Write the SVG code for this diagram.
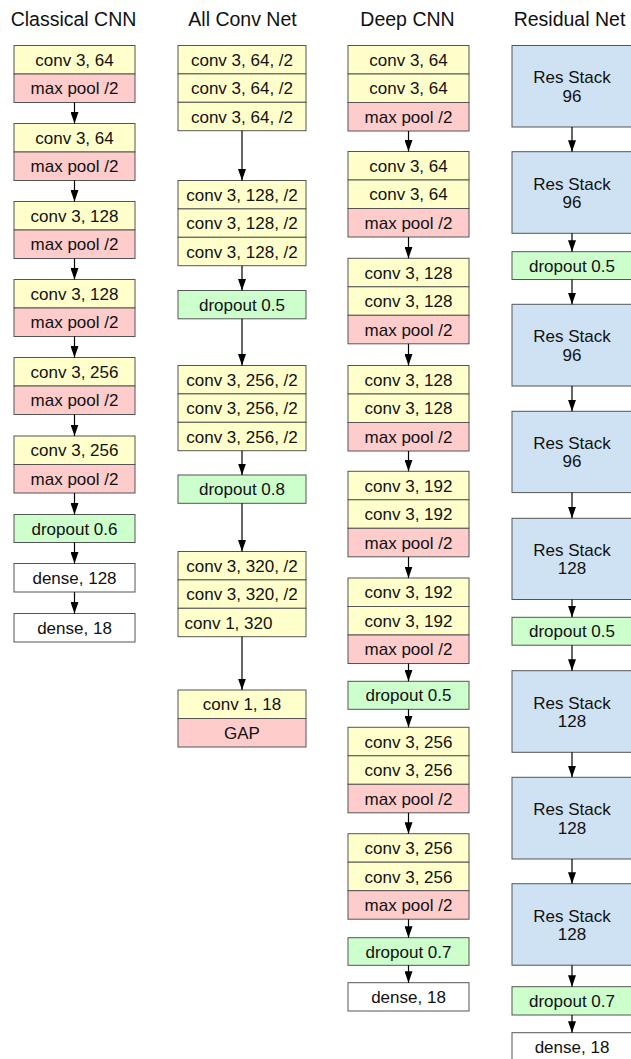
<svg xmlns="http://www.w3.org/2000/svg" width="631" height="1059" viewBox="0 0 631 1059">
<style>
rect{stroke:#555;stroke-width:1}
.y{fill:#ffffcc}.r{fill:#ffcccc}.g{fill:#ccffcc}.b{fill:#cfe2f3}.w{fill:#ffffff}
text{font-family:"Liberation Sans",Arial,Helvetica,sans-serif;fill:#111;text-anchor:middle}
.t{font-size:17px}
.h{font-size:19.5px;fill:#111}
.s{text-anchor:start}
.c line{stroke:#000;stroke-width:1.2;marker-end:url(#ah)}
</style>
<defs>
<marker id="ah" viewBox="0 0 11.5 8" refX="11.5" refY="4" markerWidth="11.5" markerHeight="8" markerUnits="userSpaceOnUse" orient="auto">
<path d="M0,0 L11.5,4 L0,8 z" fill="#000"/>
</marker>
</defs>
<rect x="0" y="0" width="631" height="1059" fill="#fff" style="stroke:none"/>

<g id="titles">
<text class="h" x="73.5" y="25.5">Classical CNN</text>
<text class="h" x="242.5" y="25.5">All Conv Net</text>
<text class="h" x="407.5" y="25.5">Deep CNN</text>
<text class="h" x="569.5" y="25.5">Residual Net</text>
</g>

<!-- Classical CNN -->
<g id="cl1"><rect class="y" x="14" y="45.5" width="121" height="28.5"/><rect class="r" x="14" y="74" width="121" height="28.5"/>
<text class="t" x="74.5" y="65.8">conv 3, 64</text><text class="t" x="74.5" y="94.3">max pool /2</text></g>
<g id="cl2"><rect class="y" x="14" y="123.5" width="121" height="28.5"/><rect class="r" x="14" y="152" width="121" height="28.5"/>
<text class="t" x="74.5" y="143.8">conv 3, 64</text><text class="t" x="74.5" y="172.3">max pool /2</text></g>
<g id="cl3"><rect class="y" x="14" y="201.5" width="121" height="28.5"/><rect class="r" x="14" y="230" width="121" height="28.5"/>
<text class="t" x="74.5" y="221.8">conv 3, 128</text><text class="t" x="74.5" y="250.3">max pool /2</text></g>
<g id="cl4"><rect class="y" x="14" y="279.5" width="121" height="28.5"/><rect class="r" x="14" y="308" width="121" height="28.5"/>
<text class="t" x="74.5" y="299.8">conv 3, 128</text><text class="t" x="74.5" y="328.3">max pool /2</text></g>
<g id="cl5"><rect class="y" x="14" y="357.5" width="121" height="28.5"/><rect class="r" x="14" y="386" width="121" height="28.5"/>
<text class="t" x="74.5" y="377.8">conv 3, 256</text><text class="t" x="74.5" y="406.3">max pool /2</text></g>
<g id="cl6"><rect class="y" x="14" y="436" width="121" height="28.5"/><rect class="r" x="14" y="464.5" width="121" height="28.5"/>
<text class="t" x="74.5" y="456.3">conv 3, 256</text><text class="t" x="74.5" y="484.8">max pool /2</text></g>
<g id="cl7"><rect class="g" x="14" y="514.5" width="121" height="28"/>
<text class="t" x="74.5" y="534.5">dropout 0.6</text></g>
<g id="cl8"><rect class="w" x="14" y="563.5" width="121" height="28.5"/>
<text class="t" x="74.5" y="583.8">dense, 128</text></g>
<g id="cl9"><rect class="w" x="14" y="613.5" width="121" height="28.5"/>
<text class="t" x="74.5" y="633.8">dense, 18</text></g>

<!-- All Conv Net -->
<g id="ac1"><rect class="y" x="178" y="45.5" width="128" height="28.4"/><rect class="y" x="178" y="73.9" width="128" height="28.4"/><rect class="y" x="178" y="102.3" width="128" height="28.4"/>
<text class="t" x="242" y="65.8">conv 3, 64, /2</text><text class="t" x="242" y="94.2">conv 3, 64, /2</text><text class="t" x="242" y="122.6">conv 3, 64, /2</text></g>
<g id="ac2"><rect class="y" x="178" y="180.5" width="128" height="28.4"/><rect class="y" x="178" y="208.9" width="128" height="28.4"/><rect class="y" x="178" y="237.3" width="128" height="28.4"/>
<text class="t" x="242" y="200.8">conv 3, 128, /2</text><text class="t" x="242" y="229.2">conv 3, 128, /2</text><text class="t" x="242" y="257.6">conv 3, 128, /2</text></g>
<g id="ac3"><rect class="g" x="178" y="290.5" width="128" height="28.3"/>
<text class="t" x="242" y="310.7">dropout 0.5</text></g>
<g id="ac4"><rect class="y" x="178" y="365.5" width="128" height="28.4"/><rect class="y" x="178" y="393.9" width="128" height="28.4"/><rect class="y" x="178" y="422.3" width="128" height="28.4"/>
<text class="t" x="242" y="385.8">conv 3, 256, /2</text><text class="t" x="242" y="414.2">conv 3, 256, /2</text><text class="t" x="242" y="442.6">conv 3, 256, /2</text></g>
<g id="ac5"><rect class="g" x="178" y="475" width="128" height="28.3"/>
<text class="t" x="242" y="495.2">dropout 0.8</text></g>
<g id="ac6"><rect class="y" x="178" y="551.5" width="128" height="28.4"/><rect class="y" x="178" y="579.9" width="128" height="28.4"/><rect class="y" x="178" y="608.3" width="128" height="28.4"/>
<text class="t" x="242" y="571.8">conv 3, 320, /2</text><text class="t" x="242" y="600.2">conv 3, 320, /2</text><text class="t s" x="184.5" y="628.6">conv 1, 320</text></g>
<g id="ac7"><rect class="y" x="178" y="690" width="128" height="28.5"/><rect class="r" x="178" y="718.5" width="128" height="28.5"/>
<text class="t" x="242" y="710.3">conv 1, 18</text><text class="t" x="242" y="738.8">GAP</text></g>

<!-- Deep CNN -->
<g id="dc1"><rect class="y" x="348" y="45.5" width="121" height="28.5"/><rect class="y" x="348" y="74" width="121" height="28.5"/><rect class="r" x="348" y="102.5" width="121" height="28.5"/>
<text class="t" x="408.5" y="65.8">conv 3, 64</text><text class="t" x="408.5" y="94.3">conv 3, 64</text><text class="t" x="408.5" y="122.8">max pool /2</text></g>
<g id="dc2"><rect class="y" x="348" y="151.5" width="121" height="28.5"/><rect class="y" x="348" y="180" width="121" height="28.5"/><rect class="r" x="348" y="208.5" width="121" height="28.5"/>
<text class="t" x="408.5" y="171.8">conv 3, 64</text><text class="t" x="408.5" y="200.3">conv 3, 64</text><text class="t" x="408.5" y="228.8">max pool /2</text></g>
<g id="dc3"><rect class="y" x="348" y="258.3" width="121" height="28.5"/><rect class="y" x="348" y="286.8" width="121" height="28.5"/><rect class="r" x="348" y="315.3" width="121" height="28.5"/>
<text class="t" x="408.5" y="278.6">conv 3, 128</text><text class="t" x="408.5" y="307.1">conv 3, 128</text><text class="t" x="408.5" y="335.6">max pool /2</text></g>
<g id="dc4"><rect class="y" x="348" y="365.5" width="121" height="28.5"/><rect class="y" x="348" y="394" width="121" height="28.5"/><rect class="r" x="348" y="422.5" width="121" height="28.5"/>
<text class="t" x="408.5" y="385.8">conv 3, 128</text><text class="t" x="408.5" y="414.3">conv 3, 128</text><text class="t" x="408.5" y="442.8">max pool /2</text></g>
<g id="dc5"><rect class="y" x="348" y="471.3" width="121" height="28.5"/><rect class="y" x="348" y="499.8" width="121" height="28.5"/><rect class="r" x="348" y="528.3" width="121" height="28.5"/>
<text class="t" x="408.5" y="491.6">conv 3, 192</text><text class="t" x="408.5" y="520.1">conv 3, 192</text><text class="t" x="408.5" y="548.6">max pool /2</text></g>
<g id="dc6"><rect class="y" x="348" y="578" width="121" height="28.5"/><rect class="y" x="348" y="606.5" width="121" height="28.5"/><rect class="r" x="348" y="635" width="121" height="28.5"/>
<text class="t" x="408.5" y="598.3">conv 3, 192</text><text class="t" x="408.5" y="626.8">conv 3, 192</text><text class="t" x="408.5" y="655.3">max pool /2</text></g>
<g id="dc7"><rect class="g" x="348" y="681.3" width="121" height="28"/>
<text class="t" x="408.5" y="701.3">dropout 0.5</text></g>
<g id="dc8"><rect class="y" x="348" y="727.3" width="121" height="28.5"/><rect class="y" x="348" y="755.8" width="121" height="28.5"/><rect class="r" x="348" y="784.3" width="121" height="28.5"/>
<text class="t" x="408.5" y="747.6">conv 3, 256</text><text class="t" x="408.5" y="776.1">conv 3, 256</text><text class="t" x="408.5" y="804.6">max pool /2</text></g>
<g id="dc9"><rect class="y" x="348" y="833.7" width="121" height="28.5"/><rect class="y" x="348" y="862.2" width="121" height="28.5"/><rect class="r" x="348" y="890.7" width="121" height="28.5"/>
<text class="t" x="408.5" y="854">conv 3, 256</text><text class="t" x="408.5" y="882.5">conv 3, 256</text><text class="t" x="408.5" y="911">max pool /2</text></g>
<g id="dc10"><rect class="g" x="348" y="937.7" width="121" height="27.6"/>
<text class="t" x="408.5" y="957.5">dropout 0.7</text></g>
<g id="dc11"><rect class="w" x="348" y="982.7" width="121" height="28.3"/>
<text class="t" x="408.5" y="1002.9">dense, 18</text></g>

<!-- Residual Net -->
<g id="rn1"><rect class="b" x="512" y="45.5" width="120" height="81.5"/>
<text class="t" x="572" y="83.3">Res Stack</text><text class="t" x="572" y="101.7">96</text></g>
<g id="rn2"><rect class="b" x="512" y="151.7" width="120" height="81.6"/>
<text class="t" x="572" y="189.5">Res Stack</text><text class="t" x="572" y="207.9">96</text></g>
<g id="rn3"><rect class="g" x="512" y="251.7" width="120" height="27.8"/>
<text class="t" x="572" y="271.6">dropout 0.5</text></g>
<g id="rn4"><rect class="b" x="512" y="304.3" width="120" height="81.7"/>
<text class="t" x="572" y="342.2">Res Stack</text><text class="t" x="572" y="360.6">96</text></g>
<g id="rn5"><rect class="b" x="512" y="411.3" width="120" height="81.3"/>
<text class="t" x="572" y="449">Res Stack</text><text class="t" x="572" y="467.4">96</text></g>
<g id="rn6"><rect class="b" x="512" y="518.3" width="120" height="81.2"/>
<text class="t" x="572" y="556">Res Stack</text><text class="t" x="572" y="574.4">128</text></g>
<g id="rn7"><rect class="g" x="512" y="617.3" width="120" height="27.9"/>
<text class="t" x="572" y="637.2">dropout 0.5</text></g>
<g id="rn8"><rect class="b" x="512" y="670.7" width="120" height="81.6"/>
<text class="t" x="572" y="708.5">Res Stack</text><text class="t" x="572" y="726.9">128</text></g>
<g id="rn9"><rect class="b" x="512" y="777.3" width="120" height="81.7"/>
<text class="t" x="572" y="815.2">Res Stack</text><text class="t" x="572" y="833.6">128</text></g>
<g id="rn10"><rect class="b" x="512" y="883.7" width="120" height="81.5"/>
<text class="t" x="572" y="921.5">Res Stack</text><text class="t" x="572" y="939.9">128</text></g>
<g id="rn11"><rect class="g" x="512" y="986.7" width="120" height="28.3"/>
<text class="t" x="572" y="1006.9">dropout 0.7</text></g>
<g id="rn12"><rect class="w" x="512" y="1032.7" width="120" height="28.5"/>
<text class="t" x="572" y="1053">dense, 18</text></g>

<g id="connectors" class="c">
<line x1="74.5" y1="102.5" x2="74.5" y2="123.5"/>
<line x1="74.5" y1="180.5" x2="74.5" y2="201.5"/>
<line x1="74.5" y1="258.5" x2="74.5" y2="279.5"/>
<line x1="74.5" y1="336.5" x2="74.5" y2="357.5"/>
<line x1="74.5" y1="414.5" x2="74.5" y2="436"/>
<line x1="74.5" y1="493" x2="74.5" y2="514.5"/>
<line x1="74.5" y1="542.5" x2="74.5" y2="563.5"/>
<line x1="74.5" y1="592" x2="74.5" y2="613.5"/>

<line x1="242" y1="130.7" x2="242" y2="180.5"/>
<line x1="242" y1="265.7" x2="242" y2="290.5"/>
<line x1="242" y1="318.8" x2="242" y2="365.5"/>
<line x1="242" y1="450.7" x2="242" y2="475"/>
<line x1="242" y1="503.3" x2="242" y2="551.5"/>
<line x1="242" y1="636.7" x2="242" y2="690"/>

<line x1="408.5" y1="131" x2="408.5" y2="151.5"/>
<line x1="408.5" y1="237" x2="408.5" y2="258.3"/>
<line x1="408.5" y1="343.8" x2="408.5" y2="365.5"/>
<line x1="408.5" y1="451" x2="408.5" y2="471.3"/>
<line x1="408.5" y1="556.8" x2="408.5" y2="578"/>
<line x1="408.5" y1="663.5" x2="408.5" y2="681.3"/>
<line x1="408.5" y1="709.3" x2="408.5" y2="727.3"/>
<line x1="408.5" y1="812.8" x2="408.5" y2="833.7"/>
<line x1="408.5" y1="919.2" x2="408.5" y2="937.7"/>
<line x1="408.5" y1="965.3" x2="408.5" y2="982.7"/>

<line x1="572" y1="127" x2="572" y2="151.7"/>
<line x1="572" y1="233.3" x2="572" y2="251.7"/>
<line x1="572" y1="279.5" x2="572" y2="304.3"/>
<line x1="572" y1="386" x2="572" y2="411.3"/>
<line x1="572" y1="492.6" x2="572" y2="518.3"/>
<line x1="572" y1="599.5" x2="572" y2="617.3"/>
<line x1="572" y1="645.2" x2="572" y2="670.7"/>
<line x1="572" y1="752.3" x2="572" y2="777.3"/>
<line x1="572" y1="859" x2="572" y2="883.7"/>
<line x1="572" y1="965.2" x2="572" y2="986.7"/>
<line x1="572" y1="1015" x2="572" y2="1032.7"/>
</g>
</svg>
